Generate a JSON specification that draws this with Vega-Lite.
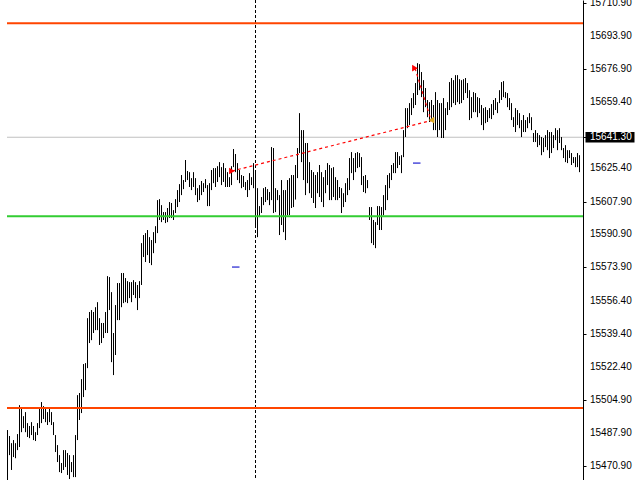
{
"$schema":"https://vega.github.io/schema/vega-lite/v6.json",
"width":576,"height":480,
"padding":{"left":7,"top":0,"right":57,"bottom":0},
"autosize":{"type":"none"},
"background":"white",
"config":{"view":{"stroke":null},"axis":{"grid":false}},
"data":{"values":[{}]},
"datasets":{
"bars":[
{"i":0,"h":15489.5,"l":15462.0},{"i":1,"h":15486.4,"l":15476.5},{"i":2,"h":15482.7,"l":15468.8},{"i":3,"h":15484.3,"l":15475.5},{"i":4,"h":15482.7,"l":15474.9},{"i":5,"h":15487.4,"l":15479.1},{"i":6,"h":15502.4,"l":15480.7},{"i":7,"h":15500.9,"l":15488.4},{"i":8,"h":15496.7,"l":15490.5},{"i":9,"h":15498.8,"l":15488.4},
{"i":10,"h":15493.1,"l":15485.9},{"i":11,"h":15491.6,"l":15485.3},{"i":12,"h":15493.6,"l":15486.9},{"i":13,"h":15491.6,"l":15484.3},{"i":14,"h":15488.4,"l":15483.8},{"i":15,"h":15493.1,"l":15486.9},{"i":16,"h":15500.9,"l":15490.5},{"i":17,"h":15504.0,"l":15493.1},{"i":18,"h":15501.9,"l":15495.2},{"i":19,"h":15500.9,"l":15493.6},
{"i":20,"h":15498.8,"l":15492.1},{"i":21,"h":15500.9,"l":15493.6},{"i":22,"h":15498.8,"l":15492.1},{"i":23,"h":15493.6,"l":15486.9},{"i":24,"h":15486.9,"l":15478.1},{"i":25,"h":15481.7,"l":15472.9},{"i":26,"h":15476.5,"l":15467.7},{"i":27,"h":15472.4,"l":15467.2},{"i":28,"h":15479.1,"l":15468.8},{"i":29,"h":15479.1,"l":15470.3},
{"i":30,"h":15477.6,"l":15466.2},{"i":31,"h":15476.5,"l":15464.1},{"i":32,"h":15472.9,"l":15467.7},{"i":33,"h":15476.5,"l":15465.1},{"i":34,"h":15486.9,"l":15465.1},{"i":35,"h":15507.6,"l":15484.3},{"i":36,"h":15508.7,"l":15494.7},{"i":37,"h":15515.9,"l":15498.3},{"i":38,"h":15523.7,"l":15506.6},{"i":39,"h":15524.2,"l":15510.2},
{"i":40,"h":15547.5,"l":15521.6},{"i":41,"h":15550.7,"l":15534.6},{"i":42,"h":15551.7,"l":15536.1},{"i":43,"h":15550.7,"l":15539.8},{"i":44,"h":15553.2,"l":15541.3},{"i":45,"h":15555.8,"l":15541.3},{"i":46,"h":15547.5,"l":15533.6},{"i":47,"h":15545.0,"l":15534.6},{"i":48,"h":15545.0,"l":15537.2},{"i":49,"h":15550.7,"l":15539.8},
{"i":50,"h":15569.3,"l":15539.8},{"i":51,"h":15568.8,"l":15551.7},{"i":52,"h":15561.0,"l":15524.7},{"i":53,"h":15539.8,"l":15518.0},{"i":54,"h":15554.3,"l":15528.4},{"i":55,"h":15565.7,"l":15546.5},{"i":56,"h":15565.7,"l":15546.5},{"i":57,"h":15570.9,"l":15553.2},{"i":58,"h":15570.9,"l":15555.3},{"i":59,"h":15568.3,"l":15555.8},
{"i":60,"h":15566.7,"l":15555.3},{"i":61,"h":15566.2,"l":15557.9},{"i":62,"h":15566.2,"l":15555.8},{"i":63,"h":15567.2,"l":15559.5},{"i":64,"h":15566.2,"l":15557.9},{"i":65,"h":15564.7,"l":15551.7},{"i":66,"h":15566.7,"l":15557.9},{"i":67,"h":15586.4,"l":15564.7},{"i":68,"h":15590.6,"l":15579.2},{"i":69,"h":15591.6,"l":15576.6},
{"i":70,"h":15593.2,"l":15580.2},{"i":71,"h":15589.5,"l":15576.1},{"i":72,"h":15588.0,"l":15575.0},{"i":73,"h":15592.1,"l":15581.2},{"i":74,"h":15595.2,"l":15586.4},{"i":75,"h":15608.7,"l":15591.6},{"i":76,"h":15609.2,"l":15598.4},{"i":77,"h":15606.1,"l":15597.3},{"i":78,"h":15602.5,"l":15598.4},{"i":79,"h":15602.5,"l":15596.8},
{"i":80,"h":15604.6,"l":15597.3},{"i":81,"h":15607.7,"l":15599.4},{"i":82,"h":15607.2,"l":15599.4},{"i":83,"h":15603.5,"l":15598.4},{"i":84,"h":15609.2,"l":15602.0},{"i":85,"h":15613.9,"l":15605.1},{"i":86,"h":15617.0,"l":15607.7},{"i":87,"h":15621.7,"l":15611.3},{"i":88,"h":15619.1,"l":15614.4},{"i":89,"h":15629.5,"l":15618.1},
{"i":90,"h":15623.8,"l":15619.1},{"i":91,"h":15623.2,"l":15615.5},{"i":92,"h":15620.1,"l":15613.9},{"i":93,"h":15623.2,"l":15615.5},{"i":94,"h":15620.1,"l":15611.3},{"i":95,"h":15614.9,"l":15607.7},{"i":96,"h":15616.5,"l":15608.7},{"i":97,"h":15618.6,"l":15611.3},{"i":98,"h":15617.5,"l":15612.9},{"i":99,"h":15619.6,"l":15614.9},
{"i":100,"h":15616.5,"l":15605.6},{"i":101,"h":15617.5,"l":15605.6},{"i":102,"h":15624.3,"l":15613.9},{"i":103,"h":15625.3,"l":15617.5},{"i":104,"h":15625.3,"l":15615.5},{"i":105,"h":15626.3,"l":15618.1},{"i":106,"h":15628.4,"l":15620.6},{"i":107,"h":15625.8,"l":15616.5},{"i":108,"h":15627.9,"l":15618.1},{"i":109,"h":15625.3,"l":15615.5},
{"i":110,"h":15623.2,"l":15615.5},{"i":111,"h":15620.6,"l":15615.5},{"i":112,"h":15626.3,"l":15616.5},{"i":113,"h":15635.2,"l":15625.8},{"i":114,"h":15632.6,"l":15623.2},{"i":115,"h":15627.9,"l":15619.1},{"i":116,"h":15624.3,"l":15617.5},{"i":117,"h":15621.7,"l":15614.9},{"i":118,"h":15621.2,"l":15615.5},{"i":119,"h":15618.1,"l":15613.9},
{"i":120,"h":15619.1,"l":15610.3},{"i":121,"h":15622.7,"l":15613.9},{"i":122,"h":15620.6,"l":15616.5},{"i":123,"h":15627.9,"l":15614.9},{"i":124,"h":15623.8,"l":15595.8},{"i":125,"h":15614.9,"l":15589.5},{"i":126,"h":15605.6,"l":15599.9},{"i":127,"h":15610.3,"l":15602.0},{"i":128,"h":15614.9,"l":15606.1},{"i":129,"h":15615.5,"l":15607.7},
{"i":130,"h":15614.4,"l":15608.7},{"i":131,"h":15612.9,"l":15606.1},{"i":132,"h":15636.2,"l":15608.7},{"i":133,"h":15635.7,"l":15602.0},{"i":134,"h":15614.9,"l":15602.5},{"i":135,"h":15613.9,"l":15608.7},{"i":136,"h":15611.3,"l":15590.6},{"i":137,"h":15619.1,"l":15595.8},{"i":138,"h":15613.9,"l":15592.1},{"i":139,"h":15613.9,"l":15588.0},
{"i":140,"h":15619.1,"l":15600.9},{"i":141,"h":15620.1,"l":15600.9},{"i":142,"h":15621.7,"l":15604.6},{"i":143,"h":15621.7,"l":15605.1},{"i":144,"h":15626.9,"l":15609.0},{"i":145,"h":15635.7,"l":15620.1},{"i":146,"h":15653.8,"l":15633.1},{"i":147,"h":15645.0,"l":15628.4},{"i":148,"h":15645.0,"l":15619.1},{"i":149,"h":15638.3,"l":15611.3},
{"i":150,"h":15638.3,"l":15617.5},{"i":151,"h":15628.4,"l":15612.3},{"i":152,"h":15624.3,"l":15609.8},{"i":153,"h":15623.2,"l":15607.2},{"i":154,"h":15621.7,"l":15604.6},{"i":155,"h":15623.2,"l":15612.3},{"i":156,"h":15626.9,"l":15610.3},{"i":157,"h":15623.2,"l":15607.7},{"i":158,"h":15620.6,"l":15605.1},{"i":159,"h":15624.3,"l":15612.3},
{"i":160,"h":15627.9,"l":15616.5},{"i":161,"h":15626.9,"l":15608.7},{"i":162,"h":15625.3,"l":15608.7},{"i":163,"h":15625.8,"l":15610.3},{"i":164,"h":15620.6,"l":15608.7},{"i":165,"h":15619.1,"l":15608.7},{"i":166,"h":15615.5,"l":15609.8},{"i":167,"h":15614.9,"l":15602.0},{"i":168,"h":15612.3,"l":15605.1},{"i":169,"h":15617.5,"l":15607.7},
{"i":170,"h":15620.1,"l":15611.3},{"i":171,"h":15630.5,"l":15613.9},{"i":172,"h":15633.6,"l":15622.7},{"i":173,"h":15630.5,"l":15619.1},{"i":174,"h":15633.1,"l":15623.2},{"i":175,"h":15633.6,"l":15625.3},{"i":176,"h":15633.1,"l":15625.8},{"i":177,"h":15631.0,"l":15616.5},{"i":178,"h":15621.2,"l":15612.9},{"i":179,"h":15621.7,"l":15612.3},
{"i":180,"h":15619.1,"l":15614.9},{"i":181,"h":15605.1,"l":15598.4},{"i":182,"h":15605.1,"l":15586.4},{"i":183,"h":15598.4,"l":15585.4},{"i":184,"h":15597.3,"l":15583.8},{"i":185,"h":15605.6,"l":15595.8},{"i":186,"h":15605.6,"l":15593.2},{"i":187,"h":15605.1,"l":15593.2},{"i":188,"h":15611.3,"l":15600.9},{"i":189,"h":15616.5,"l":15603.5},
{"i":190,"h":15621.7,"l":15608.7},{"i":191,"h":15622.7,"l":15614.9},{"i":192,"h":15626.9,"l":15619.1},{"i":193,"h":15627.9,"l":15622.7},{"i":194,"h":15633.6,"l":15622.7},{"i":195,"h":15633.6,"l":15625.3},{"i":196,"h":15631.5,"l":15626.9},{"i":197,"h":15632.0,"l":15622.7},{"i":198,"h":15645.0,"l":15631.0},{"i":199,"h":15656.4,"l":15641.4},
{"i":200,"h":15656.4,"l":15646.0},{"i":201,"h":15659.0,"l":15647.6},{"i":202,"h":15661.6,"l":15652.8},{"i":203,"h":15664.2,"l":15656.4},{"i":204,"h":15669.4,"l":15658.0},{"i":205,"h":15679.7,"l":15663.2},{"i":206,"h":15679.2,"l":15665.7},{"i":207,"h":15675.1,"l":15662.1},{"i":208,"h":15670.9,"l":15654.3},{"i":209,"h":15666.8,"l":15656.9},
{"i":210,"h":15660.6,"l":15651.7},{"i":211,"h":15659.5,"l":15649.2},{"i":212,"h":15660.6,"l":15650.2},{"i":213,"h":15658.0,"l":15645.0},{"i":214,"h":15664.7,"l":15645.0},{"i":215,"h":15660.6,"l":15641.4},{"i":216,"h":15659.0,"l":15645.0},{"i":217,"h":15659.0,"l":15640.9},{"i":218,"h":15661.6,"l":15640.9},{"i":219,"h":15656.4,"l":15645.0},
{"i":220,"h":15659.5,"l":15652.8},{"i":221,"h":15669.9,"l":15655.4},{"i":222,"h":15672.0,"l":15656.9},{"i":223,"h":15670.9,"l":15659.0},{"i":224,"h":15673.5,"l":15658.0},{"i":225,"h":15673.5,"l":15659.5},{"i":226,"h":15671.4,"l":15658.5},{"i":227,"h":15670.9,"l":15659.0},{"i":228,"h":15671.4,"l":15660.6},{"i":229,"h":15672.0,"l":15664.2},
{"i":230,"h":15669.4,"l":15661.6},{"i":231,"h":15665.7,"l":15650.2},{"i":232,"h":15662.1,"l":15651.2},{"i":233,"h":15664.7,"l":15654.3},{"i":234,"h":15664.2,"l":15654.3},{"i":235,"h":15662.1,"l":15651.7},{"i":236,"h":15661.6,"l":15653.8},{"i":237,"h":15658.0,"l":15647.6},{"i":238,"h":15656.4,"l":15645.0},{"i":239,"h":15656.9,"l":15648.6},
{"i":240,"h":15655.4,"l":15649.2},{"i":241,"h":15656.4,"l":15651.2},{"i":242,"h":15658.5,"l":15650.7},{"i":243,"h":15660.6,"l":15652.8},{"i":244,"h":15661.6,"l":15655.4},{"i":245,"h":15659.5,"l":15653.8},{"i":246,"h":15665.7,"l":15659.0},{"i":247,"h":15669.9,"l":15660.6},{"i":248,"h":15670.4,"l":15662.1},{"i":249,"h":15664.7,"l":15661.6},
{"i":250,"h":15664.2,"l":15656.9},{"i":251,"h":15661.6,"l":15655.4},{"i":252,"h":15659.0,"l":15650.2},{"i":253,"h":15651.7,"l":15646.6},{"i":254,"h":15656.4,"l":15644.0},{"i":255,"h":15655.4,"l":15647.6},{"i":256,"h":15653.8,"l":15646.0},{"i":257,"h":15650.2,"l":15641.4},{"i":258,"h":15652.8,"l":15644.0},{"i":259,"h":15650.2,"l":15644.0},
{"i":260,"h":15651.7,"l":15646.0},{"i":261,"h":15653.8,"l":15648.6},{"i":262,"h":15651.7,"l":15645.0},{"i":263,"h":15643.5,"l":15638.8},{"i":264,"h":15645.0,"l":15638.8},{"i":265,"h":15643.5,"l":15636.2},{"i":266,"h":15642.4,"l":15637.2},{"i":267,"h":15641.4,"l":15632.0},{"i":268,"h":15640.9,"l":15633.6},{"i":269,"h":15642.4,"l":15636.2},
{"i":270,"h":15645.0,"l":15634.6},{"i":271,"h":15644.0,"l":15630.5},{"i":272,"h":15644.0,"l":15633.1},{"i":273,"h":15642.4,"l":15635.7},{"i":274,"h":15646.0,"l":15639.8},{"i":275,"h":15645.0,"l":15634.6},{"i":276,"h":15646.0,"l":15638.3},{"i":277,"h":15641.4,"l":15634.6},{"i":278,"h":15635.7,"l":15630.5},{"i":279,"h":15637.2,"l":15628.4},
{"i":280,"h":15634.6,"l":15627.9},{"i":281,"h":15634.6,"l":15630.5},{"i":282,"h":15633.1,"l":15626.9},{"i":283,"h":15631.0,"l":15627.9},{"i":284,"h":15631.0,"l":15625.8},{"i":285,"h":15633.1,"l":15625.8},{"i":286,"h":15632.0,"l":15623.2}
],
"ticks":[{"v":15710.9},{"v":15693.9},{"v":15676.9},{"v":15659.4},{"v":15641.3},{"v":15625.4},{"v":15607.9},{"v":15590.9},{"v":15573.9},{"v":15556.4},{"v":15539.4},{"v":15522.4},{"v":15504.9},{"v":15487.9},{"v":15470.9}],
"trades":[{"i1":112.25,"p1":15623.8,"i2":211.75,"p2":15649.9},{"i1":203.75,"p1":15677.1,"i2":211.75,"p2":15650.2}],
"arrows":[{"i":112.25,"p":15623.8},{"i":203.75,"p":15677.1}],
"closes":[{"i":212.0,"p":15650.2}],
"dashes":[{"i1":112.25,"i2":116.0,"p":15574.0},{"i1":202.75,"i2":206.5,"p":15627.9}]
},
"layer":[
{"mark":{"type":"rule","color":"#c0c0c0","strokeWidth":1},
 "encoding":{"y":{"datum":15641.3,"type":"quantitative","scale":{"domain":[15463.6,15712.45],"nice":false,"zero":false},
   "axis":{"orient":"right","title":null,"values":[15710.9,15693.9,15676.9,15659.4,15641.3,15625.4,15607.9,15590.9,15573.9,15556.4,15539.4,15522.4,15504.9,15487.9,15470.9],
    "labels":false,"tickColor":"black","domainColor":"black","tickSize":3}}}},
{"data":{"name":"bars"},
 "mark":{"type":"rule","color":"black","strokeWidth":1},
 "encoding":{
  "x":{"field":"i","type":"quantitative","scale":{"domain":[-0.25,287.75],"nice":false,"zero":false},"axis":null},
  "y":{"field":"l","type":"quantitative"},
  "y2":{"field":"h"}}},
{"mark":{"type":"rule","color":"black","strokeWidth":1,"strokeDash":[3,2]},
 "encoding":{"x":{"datum":124,"type":"quantitative"}}},
{"mark":{"type":"rule","color":"#ff4500","strokeWidth":2},
 "encoding":{"y":{"datum":15700.4,"type":"quantitative"}}},
{"mark":{"type":"rule","color":"#ff4500","strokeWidth":2},
 "encoding":{"y":{"datum":15500.9,"type":"quantitative"}}},
{"mark":{"type":"rule","color":"#32cd32","strokeWidth":2},
 "encoding":{"y":{"datum":15600.4,"type":"quantitative"}}},
{"data":{"name":"trades"},
 "mark":{"type":"rule","color":"#ff0000","strokeWidth":1.2,"strokeDash":[3,3]},
 "encoding":{"x":{"field":"i1","type":"quantitative"},"y":{"field":"p1","type":"quantitative"},"x2":{"field":"i2"},"y2":{"field":"p2"}}},
{"data":{"name":"dashes"},
 "mark":{"type":"rule","color":"#1f1fd0","strokeWidth":1.2},
 "encoding":{"x":{"field":"i1","type":"quantitative"},"x2":{"field":"i2"},"y":{"field":"p","type":"quantitative"}}},
{"data":{"name":"arrows"},
 "mark":{"type":"point","shape":"triangle-right","filled":true,"color":"#ff0000","size":45,"opacity":1},
 "encoding":{"x":{"field":"i","type":"quantitative"},"y":{"field":"p","type":"quantitative"}}},
{"data":{"name":"closes"},
 "mark":{"type":"point","shape":"triangle-left","filled":true,"color":"#daa520","size":45,"opacity":1},
 "encoding":{"x":{"field":"i","type":"quantitative"},"y":{"field":"p","type":"quantitative"}}},
{"mark":{"type":"rect","color":"black"},
 "encoding":{"x":{"datum":289.0,"type":"quantitative"},"x2":{"datum":313.5},"y":{"datum":15644.0,"type":"quantitative"},"y2":{"datum":15638.6}}},
{"data":{"name":"ticks"},
 "mark":{"type":"text","align":"left","baseline":"middle","font":"Liberation Sans","fontSize":10},
 "encoding":{
  "x":{"datum":291.25,"type":"quantitative"},
  "y":{"field":"v","type":"quantitative"},
  "text":{"field":"v","type":"quantitative","format":".2f"},
  "color":{"condition":{"test":"datum.v == 15641.3","value":"white"},"value":"black"}}}
]
}
